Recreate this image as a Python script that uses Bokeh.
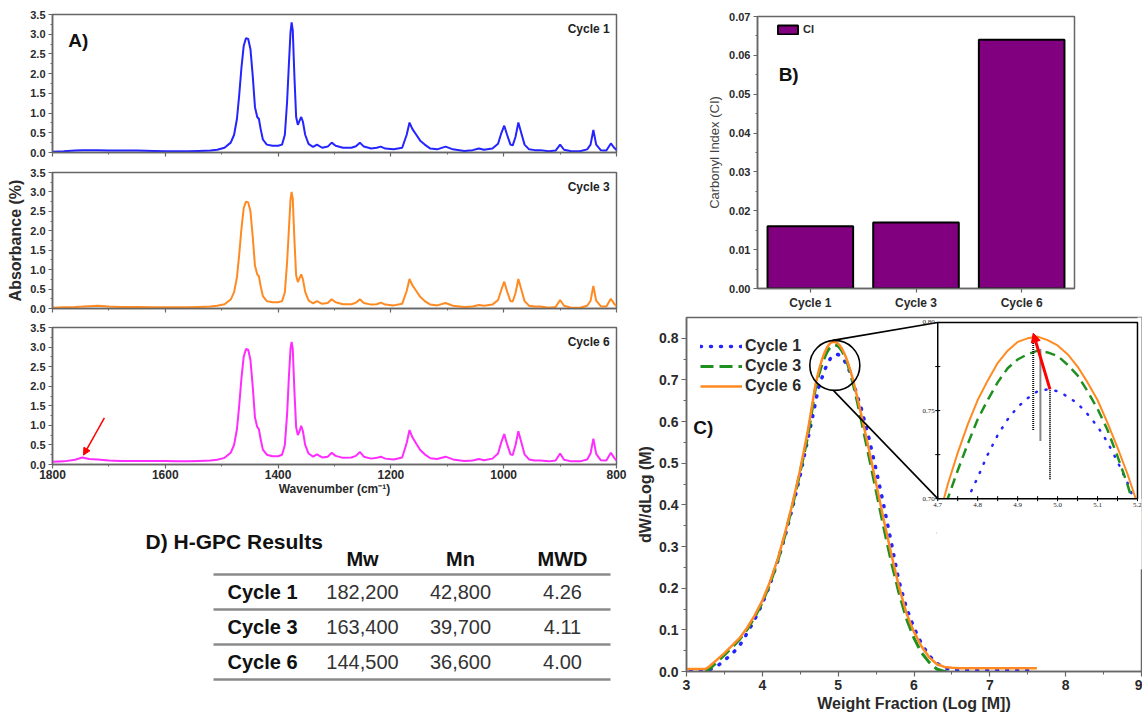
from bokeh.plotting import figure
from bokeh.layouts import row, column
from bokeh.models import (Range1d, FactorRange, FixedTicker, PrintfTickFormatter, Label,
                          Arrow, NormalHead, Legend, LegendItem)
from bokeh.core.properties import value
from bokeh.embed import file_html
from bokeh.resources import INLINE

SANS = "Liberation Sans"
SERIF = "Liberation Serif"
FRAME = "#666666"
INK = "#2a2a2a"

# ---------------- Panel A: FTIR spectra ----------------
wavenumber = [
    1800, 1780, 1760, 1747, 1735, 1720, 1700, 1680, 1650, 1620,
    1600, 1580, 1560, 1540, 1520, 1508, 1495, 1484, 1478, 1473,
    1469, 1465, 1461, 1457, 1453, 1449, 1445, 1441, 1437, 1434,
    1431, 1427, 1420, 1410, 1400, 1393, 1388, 1384, 1381, 1378,
    1376, 1374, 1371, 1368, 1365, 1362, 1359, 1356, 1352, 1346,
    1338, 1331, 1322, 1312, 1305, 1298, 1285, 1270, 1262, 1255,
    1248, 1235, 1225, 1218, 1210, 1195, 1180, 1172, 1167, 1162,
    1155, 1148, 1140, 1130, 1118, 1103, 1090, 1070, 1055, 1044,
    1035, 1020, 1010, 1004, 999, 994, 988, 984, 979, 974,
    969, 963, 955, 945, 935, 920, 908, 900, 893, 880,
    865, 852, 846, 841, 836, 828, 818, 810, 804, 800,
]
absorbance_cycle1 = [
    0.02, 0.03, 0.05, 0.06, 0.06, 0.06, 0.05, 0.05, 0.05, 0.04,
    0.03, 0.03, 0.03, 0.04, 0.05, 0.07, 0.12, 0.25, 0.45, 0.85,
    1.45, 2.15, 2.70, 2.90, 2.88, 2.62, 1.95, 1.15, 0.90, 0.85,
    0.60, 0.33, 0.20, 0.17, 0.17, 0.20, 0.45, 1.30, 2.20, 3.05,
    3.30, 3.10, 1.90, 0.90, 0.70, 0.80, 0.90, 0.78, 0.45, 0.22,
    0.14, 0.20, 0.12, 0.15, 0.25, 0.17, 0.12, 0.12, 0.16, 0.25,
    0.15, 0.10, 0.12, 0.15, 0.10, 0.08, 0.12, 0.45, 0.76, 0.60,
    0.45, 0.30, 0.20, 0.10, 0.08, 0.15, 0.08, 0.04, 0.06, 0.10,
    0.07, 0.10, 0.22, 0.50, 0.68, 0.45, 0.20, 0.18, 0.40, 0.76,
    0.50, 0.20, 0.08, 0.06, 0.06, 0.03, 0.05, 0.20, 0.07, 0.03,
    0.03, 0.08, 0.20, 0.57, 0.20, 0.06, 0.05, 0.23, 0.12, 0.06,
]
absorbance_cycle3 = [
    0.02, 0.03, 0.04, 0.05, 0.06, 0.07, 0.05, 0.04, 0.04, 0.03,
    0.03, 0.03, 0.03, 0.04, 0.05, 0.07, 0.11, 0.23, 0.42, 0.80,
    1.38, 2.05, 2.58, 2.75, 2.73, 2.50, 1.85, 1.10, 0.88, 0.83,
    0.58, 0.32, 0.19, 0.16, 0.16, 0.19, 0.42, 1.20, 2.00, 2.80,
    3.00, 2.82, 1.75, 0.85, 0.68, 0.78, 0.88, 0.75, 0.43, 0.21,
    0.13, 0.19, 0.12, 0.14, 0.24, 0.16, 0.11, 0.11, 0.15, 0.24,
    0.14, 0.10, 0.11, 0.15, 0.10, 0.08, 0.12, 0.45, 0.76, 0.60,
    0.45, 0.30, 0.19, 0.10, 0.08, 0.14, 0.07, 0.04, 0.05, 0.09,
    0.07, 0.10, 0.22, 0.49, 0.69, 0.44, 0.19, 0.18, 0.40, 0.76,
    0.50, 0.19, 0.07, 0.05, 0.05, 0.02, 0.04, 0.22, 0.07, 0.02,
    0.02, 0.07, 0.20, 0.58, 0.20, 0.06, 0.05, 0.25, 0.12, 0.06,
]
absorbance_cycle6 = [
    0.07, 0.08, 0.12, 0.18, 0.14, 0.13, 0.10, 0.09, 0.09, 0.09,
    0.09, 0.08, 0.08, 0.09, 0.10, 0.12, 0.17, 0.30, 0.50, 0.90,
    1.50, 2.20, 2.75, 2.95, 2.93, 2.67, 2.00, 1.20, 0.96, 0.90,
    0.65, 0.38, 0.25, 0.21, 0.21, 0.25, 0.50, 1.30, 2.20, 2.95,
    3.13, 2.95, 1.85, 0.95, 0.75, 0.85, 0.99, 0.85, 0.50, 0.28,
    0.20, 0.26, 0.18, 0.20, 0.30, 0.22, 0.17, 0.18, 0.22, 0.32,
    0.20, 0.15, 0.17, 0.20, 0.15, 0.13, 0.18, 0.55, 0.88, 0.70,
    0.53, 0.37, 0.26, 0.16, 0.14, 0.20, 0.13, 0.09, 0.10, 0.14,
    0.11, 0.15, 0.28, 0.58, 0.78, 0.52, 0.26, 0.24, 0.50, 0.85,
    0.58, 0.26, 0.13, 0.10, 0.10, 0.08, 0.10, 0.28, 0.12, 0.08,
    0.08, 0.13, 0.28, 0.66, 0.27, 0.11, 0.10, 0.30, 0.17, 0.10,
]
wn_major = [1800, 1600, 1400, 1200, 1000, 800]
wn_minor = [1700, 1500, 1300, 1100, 900]
abs_major = [0.0, 0.5, 1.0, 1.5, 2.0, 2.5, 3.0, 3.5]
abs_minor = [0.25, 0.75, 1.25, 1.75, 2.25, 2.75, 3.25]
carbonyl_band = 1747  # C=O shoulder that grows by cycle 6

# ---------------- Panel B: carbonyl index ----------------
ci_cycles = ["Cycle 1", "Cycle 3", "Cycle 6"]
ci_values = [0.016, 0.017, 0.064]
ci_major = [0.0, 0.01, 0.02, 0.03, 0.04, 0.05, 0.06, 0.07]
ci_minor = [0.005, 0.015, 0.025, 0.035, 0.045, 0.055, 0.065]

# ---------------- Panel C: GPC distributions ----------------
peak_grid = [4.7, 4.725, 4.75, 4.775, 4.8, 4.825, 4.85, 4.875, 4.9, 4.925,
             4.95, 4.975, 5.0, 5.025, 5.05, 5.075, 5.1, 5.125, 5.15, 5.175, 5.2]

gpc_x_cycle1 = ([3.05, 3.2, 3.3, 3.4, 3.5, 3.6, 3.7, 3.8, 3.9, 4.0, 4.1, 4.2, 4.3, 4.4, 4.5, 4.6, 4.65]
                + peak_grid
                + [5.25, 5.3, 5.4, 5.5, 5.6, 5.7, 5.8, 5.9, 6.0, 6.1, 6.2, 6.3, 6.4, 6.5, 6.7, 7.0, 7.3, 7.6])
gpc_y_cycle1 = [0.003, 0.003, 0.004, 0.012, 0.027, 0.042, 0.062, 0.092, 0.125, 0.163, 0.208, 0.263,
                0.325, 0.395, 0.472, 0.558, 0.600,
                0.645, 0.667, 0.687, 0.700, 0.712, 0.725, 0.736, 0.745, 0.752, 0.757,
                0.761, 0.762, 0.761, 0.758, 0.754, 0.748, 0.741, 0.732, 0.721, 0.709, 0.694,
                0.663, 0.635, 0.565, 0.485, 0.400, 0.310, 0.218, 0.153, 0.105, 0.066, 0.038,
                0.020, 0.009, 0.004, 0.003, 0.003, 0.003, 0.003]

gpc_x_cycle3 = ([3.25, 3.3, 3.4, 3.5, 3.6, 3.7, 3.8, 3.9, 4.0, 4.1, 4.2, 4.3, 4.4, 4.5, 4.6, 4.65]
                + peak_grid
                + [5.225, 5.25, 5.3, 5.4, 5.5, 5.6, 5.7, 5.8, 5.9, 6.0, 6.1, 6.2, 6.3, 6.4, 6.5])
gpc_y_cycle3 = [0.000, 0.006, 0.022, 0.040, 0.058, 0.077, 0.101, 0.131, 0.166, 0.210, 0.263, 0.328,
                0.400, 0.480, 0.565, 0.622,
                0.680, 0.700, 0.716, 0.731, 0.745, 0.756, 0.766, 0.774, 0.779, 0.782,
                0.784, 0.783, 0.781, 0.776, 0.770, 0.761, 0.751, 0.739, 0.724, 0.708, 0.689,
                0.670, 0.650, 0.608, 0.522, 0.435, 0.347, 0.264, 0.190, 0.127, 0.080, 0.045,
                0.022, 0.006, 0.000, 0.000]

gpc_x_cycle6 = ([3.0, 3.1, 3.2, 3.25, 3.3, 3.4, 3.5, 3.6, 3.7, 3.8, 3.9, 4.0, 4.1, 4.2, 4.3, 4.4, 4.5, 4.6, 4.65]
                + peak_grid
                + [5.225, 5.25, 5.3, 5.4, 5.5, 5.6, 5.7, 5.8, 5.9, 6.0, 6.1, 6.2, 6.3, 6.4, 6.5,
                   6.6, 6.8, 7.0, 7.2, 7.4, 7.62])
gpc_y_cycle6 = [0.006, 0.006, 0.006, 0.006, 0.012, 0.028, 0.044, 0.062, 0.080, 0.105, 0.135, 0.170,
                0.215, 0.268, 0.333, 0.405, 0.485, 0.578, 0.632,
                0.687, 0.708, 0.726, 0.742, 0.756, 0.767, 0.777, 0.784, 0.789, 0.791,
                0.792, 0.790, 0.787, 0.782, 0.775, 0.766, 0.756, 0.743, 0.729, 0.714, 0.697,
                0.679, 0.660, 0.620, 0.538, 0.452, 0.365, 0.282, 0.205, 0.140, 0.095, 0.060,
                0.034, 0.018, 0.011, 0.009, 0.008, 0.008, 0.008, 0.008, 0.008, 0.008]

# peak positions marked in the zoom window (cycle 1, cycle 3, cycle 6)
peak_x = [4.981, 4.957, 4.939]
peak_top = [0.762, 0.785, 0.792]
peak_drop = [0.711, 0.733, 0.739]

# zoom window and where it sits inside panel C (main-axis units)
zoom_x = (4.7, 5.2)
zoom_y = (0.70, 0.80)
zoom_box_x = (6.313, 8.947)
zoom_box_y = (0.415, 0.838)
zoom_x_major = [4.7, 4.8, 4.9, 5.0, 5.1, 5.2]
zoom_x_minor = [4.75, 4.85, 4.95, 5.05, 5.15]
zoom_y_major = [0.70, 0.75, 0.80]
zoom_y_minor = [0.725, 0.775]
circle_center = (4.956, 0.735)
circle_radius_px = 25

# ---------------- Panel D: H-GPC table ----------------
gpc_cycles = ["Cycle 1", "Cycle 3", "Cycle 6"]
gpc_mw = [182200, 163400, 144500]
gpc_mn = [42800, 39700, 36600]
gpc_mwd = [4.26, 4.11, 4.00]
gpc_headers = ["Mw", "Mn", "MWD"]

BLUE = "#2424ff"
ORANGE = "#ff8a22"
MAGENTA = "#ff2cff"
GREEN = "#1f8f1f"
PURPLE = "#800080"


def frame_style(p):
    p.outline_line_color = FRAME
    p.outline_line_width = 1.5
    p.outline_line_alpha = 1.0
    p.xgrid.visible = False
    p.ygrid.visible = False
    for ax in p.axis:
        ax.axis_line_color = FRAME
        ax.axis_line_width = 1.5
        ax.major_tick_line_color = FRAME
        ax.minor_tick_line_color = FRAME
        ax.major_tick_line_width = 1.2
        ax.minor_tick_line_width = 1.0
        ax.major_tick_in = 0
        ax.major_tick_out = 4
        ax.minor_tick_in = 0
        ax.minor_tick_out = 2
        ax.major_label_text_font = SANS
        ax.major_label_text_font_style = "bold"
        ax.major_label_text_color = INK
        ax.axis_label_text_font = SANS
        ax.axis_label_text_font_style = "bold"
        ax.axis_label_text_color = INK


def spectrum_panel(absorbance, color, cycle_name, height, border_top, border_bottom,
                   show_x=False, ylabel=None):
    p = figure(width=630, height=height, x_range=Range1d(1800, 800), y_range=Range1d(0, 3.5),
               output_backend="svg", toolbar_location=None,
               min_border_left=52, min_border_right=14,
               min_border_top=border_top, min_border_bottom=border_bottom)
    p.line(wavenumber, absorbance, line_color=color, line_width=2)
    frame_style(p)
    p.xaxis.ticker = FixedTicker(ticks=wn_major, minor_ticks=wn_minor)
    p.yaxis.ticker = FixedTicker(ticks=abs_major, minor_ticks=abs_minor)
    p.yaxis.formatter = PrintfTickFormatter(format="%.1f")
    p.yaxis.major_label_text_font_size = "11px"
    p.yaxis.major_label_standoff = 3
    if show_x:
        p.xaxis.major_label_text_font_size = "12px"
        p.xaxis.major_label_standoff = 1
        p.xaxis.axis_label = "Wavenumber (cm\u207b\u00b9)"
        p.xaxis.axis_label_text_font_size = "12px"
        p.xaxis.axis_label_standoff = 0
    else:
        p.xaxis.major_label_overrides = {t: "" for t in wn_major}
        p.xaxis.major_label_text_font_size = "0px"
        p.xaxis.major_label_standoff = 0
    if ylabel:
        p.yaxis.axis_label = ylabel
        p.yaxis.axis_label_text_font_size = "16px"
        p.yaxis.axis_label_standoff = 3
    p.add_layout(Label(x=812, y=3.13, text=cycle_name, text_align="right", text_baseline="middle",
                       text_font=SANS, text_font_style="bold", text_font_size="12px",
                       text_color="#222222"))
    return p


pa1 = spectrum_panel(absorbance_cycle1, BLUE, "Cycle 1", 162, 14, 10)
pa1.add_layout(Label(x=1772, y=2.84, text="A)", text_align="left", text_baseline="middle",
                     text_font=SANS, text_font_style="bold", text_font_size="19px", text_color="#111111"))
pa2 = spectrum_panel(absorbance_cycle3, ORANGE, "Cycle 3", 156, 10, 10, ylabel="Absorbance (%)")
pa3 = spectrum_panel(absorbance_cycle6, MAGENTA, "Cycle 6", 181, 9, 35, show_x=True)
pa3.add_layout(Arrow(end=NormalHead(size=7, fill_color="red", line_color="red", line_width=1),
                     x_start=carbonyl_band - 39, y_start=1.19,
                     x_end=carbonyl_band - 2, y_end=0.24,
                     line_color="red", line_width=1.5))

# ---------------- Panel B ----------------
pb = figure(width=512, height=312, x_range=FactorRange(factors=ci_cycles), y_range=Range1d(0, 0.07),
            output_backend="svg", toolbar_location=None,
            min_border_left=127, min_border_right=68, min_border_top=16, min_border_bottom=21)
pb.vbar(x=ci_cycles, top=ci_values, width=0.81, fill_color=PURPLE, line_color="black",
        line_width=2, legend_label="CI")
frame_style(pb)
pb.yaxis.ticker = FixedTicker(ticks=ci_major, minor_ticks=ci_minor)
pb.yaxis.formatter = PrintfTickFormatter(format="%.2f")
pb.yaxis.major_label_text_font_size = "11px"
pb.yaxis.major_label_standoff = 3
pb.xaxis.major_label_text_font_size = "12px"
pb.xaxis.major_label_standoff = 3
pb.yaxis.axis_label = "Carbonyl Index (CI)"
pb.yaxis.axis_label_text_font_style = "normal"
pb.yaxis.axis_label_text_font_size = "13px"
pb.yaxis.axis_label_text_color = "#444444"
pb.yaxis.axis_label_standoff = 4
pb.legend.location = (18, 253)
pb.legend.margin = 0
pb.legend.padding = 0
pb.legend.border_line_color = None
pb.legend.background_fill_alpha = 0
pb.legend.glyph_width = 25
pb.legend.glyph_height = 11
pb.legend.label_height = 11
pb.legend.label_standoff = 3
pb.legend.label_text_font = SANS
pb.legend.label_text_font_style = "bold"
pb.legend.label_text_font_size = "11px"
pb.legend.label_text_color = INK
pb.add_layout(Label(x=0.2, y=0.055, text="B)", text_align="left", text_baseline="middle",
                    text_font=SANS, text_font_style="bold", text_font_size="19px", text_color="#111111"))

# ---------------- Panel C ----------------
pc = figure(width=512, height=403, x_range=Range1d(3, 9), y_range=Range1d(0, 0.85),
            output_backend="svg", toolbar_location=None,
            min_border_left=56, min_border_right=1, min_border_top=5, min_border_bottom=44)

r1 = pc.line(gpc_x_cycle1, gpc_y_cycle1, line_color=BLUE, line_width=3.5, line_dash="1 9",
             line_cap="round")
r3 = pc.line(gpc_x_cycle3, gpc_y_cycle3, line_color=GREEN, line_width=3, line_dash="13 6")
r6 = pc.line(gpc_x_cycle6, gpc_y_cycle6, line_color=ORANGE, line_width=2.5)
frame_style(pc)
pc.xaxis.ticker = FixedTicker(ticks=[3, 4, 5, 6, 7, 8, 9], minor_ticks=[3.5, 4.5, 5.5, 6.5, 7.5, 8.5])
pc.yaxis.ticker = FixedTicker(ticks=[0.0, 0.1, 0.2, 0.3, 0.4, 0.5, 0.6, 0.7, 0.8],
                              minor_ticks=[0.05, 0.15, 0.25, 0.35, 0.45, 0.55, 0.65, 0.75])
pc.yaxis.formatter = PrintfTickFormatter(format="%.1f")
for ax in pc.axis:
    ax.major_tick_out = 5
    ax.minor_tick_out = 3
    ax.major_label_text_font_size = "14px"
    ax.major_label_standoff = 3
    ax.axis_label_text_font_size = "16px"
    ax.axis_label_standoff = 2
pc.xaxis.axis_label = "Weight Fraction (Log [M])"
pc.yaxis.axis_label = "dW/dLog (M)"

legend_c = Legend(items=[LegendItem(label="Cycle 1", renderers=[r1]),
                         LegendItem(label="Cycle 3", renderers=[r3]),
                         LegendItem(label="Cycle 6", renderers=[r6])],
                  location=(14, 275), margin=0, padding=0, spacing=0,
                  glyph_width=42, glyph_height=20, label_height=20, label_standoff=3,
                  border_line_color=None, background_fill_alpha=0,
                  label_text_font=SANS, label_text_font_style="bold", label_text_font_size="16px",
                  label_text_color=INK)
pc.add_layout(legend_c)
pc.add_layout(Label(x=3.09, y=0.586, text="C)", text_align="left", text_baseline="middle",
                    text_font=SANS, text_font_style="bold", text_font_size="19px", text_color="#111111"))

# circle around the peak and the lines leading to the zoom window
pc.scatter([circle_center[0]], [circle_center[1]], marker="circle", size=2 * circle_radius_px,
           fill_color=None, line_color="black", line_width=1.6)
dy_circle = circle_radius_px * 0.85 / 354
pc.segment(x0=[circle_center[0] - 0.03, circle_center[0] - 0.02],
           y0=[circle_center[1] + dy_circle, circle_center[1] - dy_circle],
           x1=[zoom_box_x[0], zoom_box_x[0]], y1=[zoom_box_y[1], zoom_box_y[0]],
           line_color="black", line_width=1.6)

# zoom window uses its own ranges mapped onto the box
sx = (zoom_x[1] - zoom_x[0]) / (zoom_box_x[1] - zoom_box_x[0])
sy = (zoom_y[1] - zoom_y[0]) / (zoom_box_y[1] - zoom_box_y[0])
pc.extra_x_ranges = {"zx": Range1d(zoom_x[0] - (zoom_box_x[0] - 3) * sx,
                                   zoom_x[0] + (9 - zoom_box_x[0]) * sx)}
pc.extra_y_ranges = {"zy": Range1d(zoom_y[0] - (zoom_box_y[0] - 0) * sy,
                                   zoom_y[0] + (0.85 - zoom_box_y[0]) * sy)}
Z = dict(x_range_name="zx", y_range_name="zy")

pc.quad(left=[zoom_x[0]], right=[zoom_x[1]], bottom=[zoom_y[0]], top=[zoom_y[1]],
        fill_color="white", line_color=None, **Z)


def in_window(xs, ys):
    pts = [(x, y) for x, y in zip(xs, ys) if zoom_x[0] <= x <= zoom_x[1] + 0.05 and y >= 0.66]
    return [p[0] for p in pts], [p[1] for p in pts]


zx1, zy1 = in_window(gpc_x_cycle1, gpc_y_cycle1)
zx3, zy3 = in_window(gpc_x_cycle3, gpc_y_cycle3)
zx6, zy6 = in_window(gpc_x_cycle6, gpc_y_cycle6)
pc.line(zx1, zy1, line_color=BLUE, line_width=2.5, line_dash="1 9", line_cap="round", **Z)
pc.line(zx3, zy3, line_color=GREEN, line_width=2.5, line_dash="10 6", **Z)
pc.line(zx6, zy6, line_color=ORANGE, line_width=2, **Z)
pc.segment(x0=peak_x, y0=peak_drop, x1=peak_x, y1=peak_top, line_color="#111111",
           line_width=2, line_dash="1 1", **Z)

# white strips hide curve ends that leave the window
pc.quad(left=[zoom_x[0] - 0.002, zoom_x[1]], right=[zoom_x[1] + 0.05, zoom_x[1] + 0.05],
        bottom=[zoom_y[0] - 0.04, zoom_y[0] - 0.04], top=[zoom_y[0], zoom_y[1] + 0.01],
        fill_color="white", line_color=None, **Z)
pc.quad(left=[zoom_x[0]], right=[zoom_x[1]], bottom=[zoom_y[0]], top=[zoom_y[1]],
        fill_color=None, line_color="black", line_width=1.5, **Z)
pc.scatter(zoom_x_major + zoom_x_minor, [zoom_y[0]] * 11, marker="dash", angle=1.5708, size=5,
           line_color="black", line_width=1, **Z)
pc.scatter([zoom_x[0]] * 5, zoom_y_major + zoom_y_minor, marker="dash", size=5,
           line_color="black", line_width=1, **Z)
pc.text(x=zoom_x_major, y=[zoom_y[0]] * 6, text=[f"{v:.1f}" for v in zoom_x_major],
        y_offset=4, text_align="center", text_baseline="top", text_font=value(SERIF),
        text_font_size="7px", text_color="#222222", **Z)
pc.text(x=[zoom_x[0]] * 3, y=zoom_y_major, text=[f"{v:.2f}" for v in zoom_y_major],
        x_offset=-3, text_align="right", text_baseline="middle", text_font=value(SERIF),
        text_font_size="7px", text_color="#222222", **Z)
pc.add_layout(Arrow(end=NormalHead(size=9, fill_color="red", line_color="red", line_width=1),
                    x_start=peak_x[0], y_start=peak_top[0], x_end=peak_x[2], y_end=peak_top[2] + 0.002,
                    line_color="red", line_width=3, x_range_name="zx", y_range_name="zy"))

# ---------------- Panel D: table ----------------
pt = figure(width=630, height=216, x_range=Range1d(0, 630), y_range=Range1d(216, 0),
            x_axis_location=None, y_axis_location=None, min_border=0,
            output_backend="svg", toolbar_location=None)
pt.outline_line_color = None
pt.xgrid.visible = False
pt.ygrid.visible = False
col_centers = [362, 460, 562]
rule_left, rule_right = 213, 610
rule_first, row_step = 75, 35
pt.text(x=[145], y=[42], text=["D) H-GPC Results"], text_font=value(SANS), text_font_style="bold",
        text_font_size="21px", text_align="left", text_baseline="middle", text_color="#111111")
pt.text(x=col_centers, y=[59] * 3, text=gpc_headers, text_font=value(SANS), text_font_style="bold",
        text_font_size="20px", text_align="center", text_baseline="middle", text_color="#111111")
rules_y = [rule_first + i * row_step for i in range(len(gpc_cycles) + 1)]
pt.segment(x0=[rule_left] * len(rules_y), y0=rules_y, x1=[rule_right] * len(rules_y), y1=rules_y,
           line_color="#8a8a8a", line_width=2.5)
rows_y = [rule_first + row_step * (i + 0.5) for i in range(len(gpc_cycles))]
pt.text(x=[227] * 3, y=rows_y, text=gpc_cycles, text_font=value(SANS), text_font_style="bold",
        text_font_size="20px", text_align="left", text_baseline="middle", text_color="#111111")
for cx, vals in zip(col_centers, [[f"{v:,}" for v in gpc_mw], [f"{v:,}" for v in gpc_mn],
                                  [f"{v:.2f}" for v in gpc_mwd]]):
    pt.text(x=[cx] * 3, y=rows_y, text=vals, text_font=value(SANS), text_font_size="20px",
            text_align="center", text_baseline="middle", text_color="#333333")

# each plot sits in its own row so the columns do not line up their frames
left = column(row(pa1), row(pa2), row(pa3), row(pt))
right = column(row(pb), row(pc))
layout = row(left, right)
open("out.html", "w").write(file_html(layout, INLINE))
